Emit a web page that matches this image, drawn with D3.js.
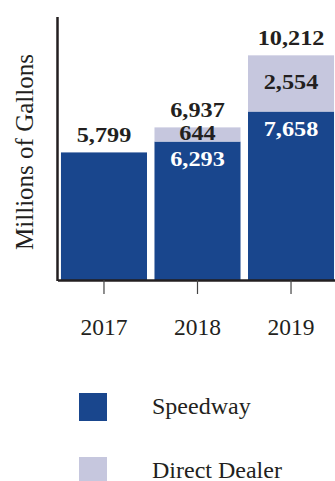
<!DOCTYPE html>
<html lang="en">
  <head>
    <meta http-equiv="Content-Type" content="text/html; charset=utf-8"/>
    <style>
body { margin: 0; background: #fff; }
text {
  font-family: "Liberation Serif", "Times New Roman", serif;
  fill: #231f20;
}
.val { font-weight: bold; font-size: 21.5px; text-anchor: middle; }
    </style>
  </head>
  <body>
    <svg width="335" height="481"></svg>
    <script src="https://cdn.jsdelivr.net/npm/d3@7"></script>
    <script>

var years = ['2017', '2018', '2019'];
var speedway = [5799, 6293, 7658];
var directDealer = [0, 644, 2554];
var totals = [5799, 6937, 10212];
var seriesNames = ['Speedway', 'Direct Dealer'];
var colors = ['#19468d', '#c6c7de'];

var svg = d3.select('svg');

var x = d3.scaleBand().domain(years)
  .range([57.5, 337.5]).paddingInner(0.08).paddingOuter(0.037);
var y = d3.scaleLinear().domain([0, 12000]).range([280, 16]);

var rows = years.map(function(yr, i) {
  return { year: yr, speedway: speedway[i], direct: directDealer[i], total: totals[i] };
});

// bars
var g = svg.append('g');
g.selectAll('rect.sp').data(rows).enter().append('rect')
  .attr('x', d => x(d.year))
  .attr('width', x.bandwidth())
  .attr('y', d => y(d.speedway))
  .attr('height', d => y(0) - y(d.speedway))
  .attr('fill', colors[0]);

g.selectAll('rect.dd').data(rows.filter(d => d.direct > 0)).enter().append('rect')
  .attr('x', d => x(d.year))
  .attr('width', x.bandwidth())
  .attr('y', d => y(d.speedway + d.direct))
  .attr('height', d => y(d.speedway) - y(d.speedway + d.direct))
  .attr('fill', colors[1]);

// x axis
var xAxis = svg.append('g')
  .attr('transform', 'translate(0,' + y(0) + ')')
  .call(d3.axisBottom(x).tickSize(14).tickSizeOuter(0));
xAxis.select('.domain').attr('stroke', '#231f20').attr('stroke-width', 2.5);
xAxis.selectAll('.tick line').attr('stroke', '#444').attr('stroke-width', 1.2);
xAxis.selectAll('.tick text')
  .attr('y', 55).attr('dy', 0)
  .style('font-family', '"Liberation Serif", serif')
  .style('font-size', '23.5px')
  .attr('fill', '#231f20');

// y axis line
svg.append('line')
  .attr('x1', 57.5).attr('x2', 57.5)
  .attr('y1', y(12000) + 1).attr('y2', y(0) + 1)
  .attr('stroke', '#231f20').attr('stroke-width', 2.5);

svg.append('text')
  .attr('transform', 'translate(33,' + 152 + ') rotate(-90)')
  .attr('text-anchor', 'middle')
  .style('font-size', '25px')
  .text('Millions of Gallons');

// labels
var cx = d => x(d.year) + x.bandwidth() / 2;
var place = (px, py) => 'translate(' + px + ',' + py + ') scale(1.13,1)';

svg.selectAll('text.tot').data(rows).enter().append('text')
  .attr('class', 'val')
  .attr('transform', d => place(cx(d), y(d.total) - 10.5))
  .text(d => d3.format(',')(d.total));

svg.selectAll('text.spv').data(rows.filter(d => d.direct > 0)).enter().append('text')
  .attr('class', 'val')
  .attr('transform', d => place(cx(d), y(d.speedway) + 24.5))
  .style('fill', '#fff')
  .text(d => d3.format(',')(d.speedway));

svg.selectAll('text.ddv').data(rows.filter(d => d.direct > 0)).enter().append('text')
  .attr('class', 'val')
  .attr('transform', d => place(cx(d), (y(d.speedway) + y(d.speedway + d.direct)) / 2 + 5.5))
  .text(d => d3.format(',')(d.direct));

// legend
var leg = svg.selectAll('g.leg').data(seriesNames).enter().append('g')
  .attr('transform', (d, i) => 'translate(79,' + (393 + i * 64) + ')');
leg.append('rect').attr('width', 28).attr('height', 28)
  .attr('fill', (d, i) => colors[i]);
leg.append('text').attr('x', 73).attr('y', 21)
  .style('font-size', '24px')
  .text(d => d);

    </script>
  </body>
</html>
